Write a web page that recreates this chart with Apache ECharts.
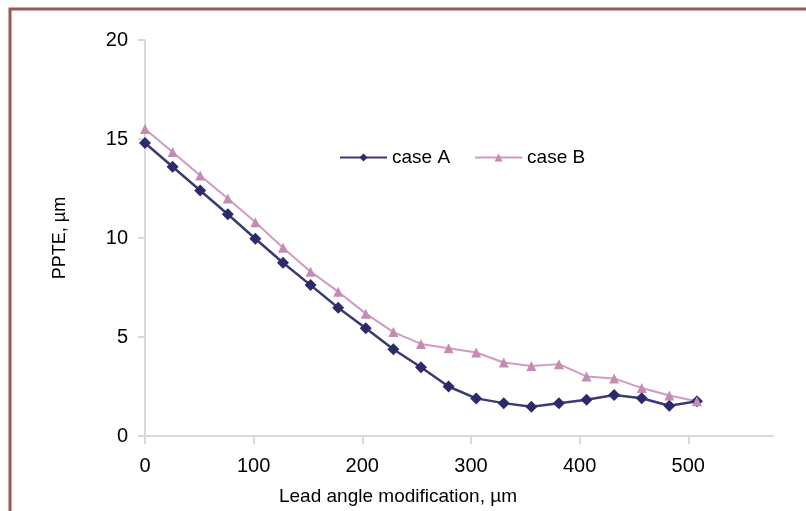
<!DOCTYPE html>
<html>
<head>
<meta charset="utf-8">
<script src="https://cdn.jsdelivr.net/npm/echarts@6/dist/echarts.min.js"></script>
<style>
html,body{margin:0;padding:0;background:#fff;}
#c{width:806px;height:511px;}
</style>
</head>
<body>
<div id="c"></div>
<script>
var xValues = [0, 25.4, 50.8, 76.2, 101.6, 127, 152.4, 177.8, 203.2, 228.6, 254, 279.4, 304.8, 330.2, 355.6, 381, 406.4, 431.8, 457.2, 482.6, 508];
var caseA = [14.8, 13.6, 12.4, 11.2, 9.96, 8.75, 7.62, 6.48, 5.44, 4.38, 3.47, 2.5, 1.9, 1.66, 1.48, 1.65, 1.83, 2.07, 1.91, 1.53, 1.75];
var caseB = [15.5, 14.34, 13.16, 11.99, 10.8, 9.51, 8.3, 7.29, 6.18, 5.25, 4.65, 4.43, 4.22, 3.71, 3.54, 3.63, 3.01, 2.91, 2.42, 2.05, 1.75];
var xTicks = [0, 100, 200, 300, 400, 500];
var yTicks = [0, 5, 10, 15, 20];

function pairs(xs, ys) { return xs.map(function (x, i) { return [x, ys[i]]; }); }

var chart = echarts.init(document.getElementById('c'));
var font = '"Liberation Sans", Arial, sans-serif';
chart.setOption({
  animation: false,
  backgroundColor: '#fff',
  textStyle: { fontFamily: font },
  graphic: [{
    type: 'rect',
    shape: { x: 10, y: 9, width: 900, height: 600 },
    style: { fill: 'none', stroke: '#9a5656', lineWidth: 3 },
    silent: true
  }],
  grid: { left: 145, top: 40, right: 33, bottom: 74, containLabel: false },
  legend: {
    left: 334, top: 143,
    itemWidth: 47, itemHeight: 10, itemGap: 24,
    textStyle: { fontFamily: font, fontSize: 19, color: '#000' },
    data: ['case A', 'case B']
  },
  xAxis: {
    type: 'value', min: 0, max: 578,
    name: 'Lead angle modification, \u00b5m',
    nameLocation: 'middle', nameGap: 51,
    nameTextStyle: { fontFamily: font, fontSize: 19, color: '#000', padding: [0, 122, 0, 0] },
    axisLine: { show: true, lineStyle: { color: '#d9d9d9', width: 2 } },
    axisTick: { show: true, length: 8, lineStyle: { color: '#d9d9d9', width: 2 }, customValues: xTicks },
    axisLabel: { fontFamily: font, fontSize: 20, color: '#000', margin: 20, customValues: xTicks },
    splitLine: { show: false }
  },
  yAxis: {
    type: 'value', min: 0, max: 20, interval: 5,
    name: 'PPTE, \u00b5m',
    nameLocation: 'middle', nameGap: 76, nameRotate: 90,
    nameTextStyle: { fontFamily: font, fontSize: 18, color: '#000' },
    axisLine: { show: true, lineStyle: { color: '#d9d9d9', width: 2 } },
    axisTick: { show: true, length: 7, lineStyle: { color: '#d9d9d9', width: 2 }, customValues: yTicks },
    axisLabel: { fontFamily: font, fontSize: 20, color: '#000', margin: 17, customValues: yTicks },
    splitLine: { show: false }
  },
  series: [{
    name: 'case A', type: 'line',
    data: pairs(xValues, caseA),
    symbol: 'diamond', symbolSize: 12,
    itemStyle: { color: '#2d2a6c' },
    lineStyle: { color: '#3c3a72', width: 2.5 }
  }, {
    name: 'case B', type: 'line',
    data: pairs(xValues, caseB),
    symbol: 'triangle', symbolSize: 10,
    itemStyle: { color: '#c68bb3' },
    lineStyle: { color: '#cf9cbf', width: 2 }
  }]
});
</script>
</body>
</html>
